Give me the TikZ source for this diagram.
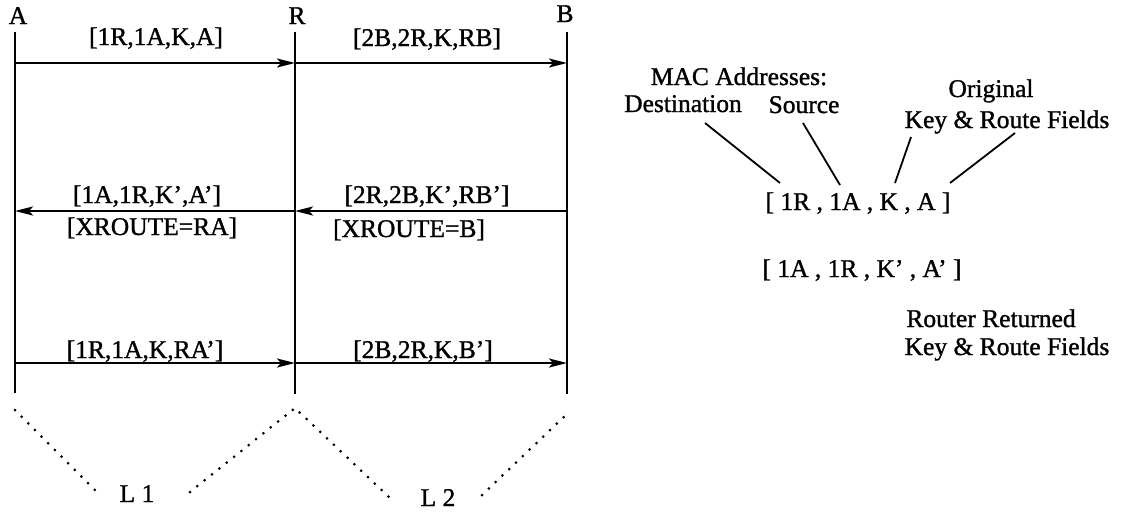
\documentclass[tikz,border=0pt]{standalone}
\usepackage{fontspec}
\setmainfont{Liberation Serif}
\newfontfamily\heavy{Liberation Serif}[Ligatures=TeX,FakeBold=1.2]
\usetikzlibrary{arrows.meta}
\begin{document}
\begin{tikzpicture}[x=1pt,y=-1pt,
  lbl/.style={font=\heavy\fontsize{25.5}{28}\selectfont, inner sep=0pt, anchor=base},
  life/.style={line width=1.5pt},
  msg/.style={line width=2.4pt, -{Stealth[length=18pt,width=9pt,inset=4pt]}},
  dotline/.style={line width=3pt, line cap=round, dash pattern=on 0pt off 9.4pt},
  ann/.style={font=\heavy\fontsize{25.5}{28}\selectfont, inner sep=0pt, anchor=base},
  lead/.style={line width=1.8pt}]
\useasboundingbox (0,0) rectangle (1121,514);
% stations
\node[lbl] (nA) at (18,24) {A};
\node[lbl] (nR) at (297,24) {R};
\node[lbl] (nB) at (565,22) {B};
\coordinate (aT) at (15,32);  \coordinate (aE) at (15,393);
\coordinate (rT) at (295,32); \coordinate (rE) at (295,394);
\coordinate (bT) at (567,32); \coordinate (bE) at (567,394);
\draw[life] (aT) -- (aE);
\draw[life] (rT) -- (rE);
\draw[life] (bT) -- (bE);
% message points
\coordinate (a1) at (15,63);  \coordinate (r1) at (295,63);  \coordinate (b1) at (567,63);
\coordinate (a2) at (15,211); \coordinate (r2) at (295,211); \coordinate (b2) at (567,211);
\coordinate (a3) at (15,363); \coordinate (r3) at (295,363); \coordinate (b3) at (567,363);
\draw[msg] (a1) -- (r1);
\draw[msg] (r1) -- (b1);
\draw[msg] (r2) -- (a2);
\draw[msg] (b2) -- (r2);
\draw[msg] (a3) -- (r3);
\draw[msg] (r3) -- (b3);
% message labels
\node[lbl] (m1) at (156,45) {[1R,1A,K,A]};
\node[lbl] (m2) at (427,46) {[2B,2R,K,RB]};
\node[lbl] (m3) at (147,203) {[1A,1R,K',A']};
\node[lbl] (m3x) at (152,235) {[XROUTE=RA]};
\node[lbl] (m4) at (427,203) {[2R,2B,K',RB']};
\node[lbl] (m4x) at (409,237) {[XROUTE=B]};
\node[lbl] (m5) at (145,358) {[1R,1A,K,RA']};
\node[lbl] (m6) at (423,358) {[2B,2R,K,B']};
% links
\coordinate (d1) at (15,410);  \coordinate (d2) at (95,490);
\coordinate (d3) at (190,492); \coordinate (d4) at (295,408); \coordinate (d5) at (390,498);
\coordinate (d6) at (482,495); \coordinate (d7) at (568,413);
\draw[dotline] (d1) -- (d2);
\draw[dotline] (d3) -- (d4) -- (d5);
\draw[dotline] (d6) -- (d7);
\node[lbl] (L1) at (137,502) {L 1};
\node[lbl] (L2) at (438,506) {L 2};
% annotation
\node[ann] (mac) at (739,85) {MAC Addresses:};
\node[ann] (dst) at (683,112) {Destination};
\node[ann] (src) at (804,113) {Source};
\node[ann] (org) at (991,97) {Original};
\node[ann] (krf) at (1007,128) {Key \& Route Fields};
\node[ann] (pk1) at (858,210) {[ 1R , 1A , K , A ]};
\node[ann] (pk2) at (862,277) {[ 1A , 1R , K' , A' ]};
\node[ann] (rr) at (991,327) {Router Returned};
\node[ann] (rkf) at (1007,355) {Key \& Route Fields};
\coordinate (l1a) at (705,123); \coordinate (l1b) at (780,183);
\coordinate (l2a) at (803,123); \coordinate (l2b) at (840,185);
\coordinate (l3a) at (911,137); \coordinate (l3b) at (895,183);
\coordinate (l4a) at (1015,133); \coordinate (l4b) at (950,183);
\draw[lead] (l1a) -- (l1b);
\draw[lead] (l2a) -- (l2b);
\draw[lead] (l3a) -- (l3b);
\draw[lead] (l4a) -- (l4b);
\end{tikzpicture}
\end{document}
